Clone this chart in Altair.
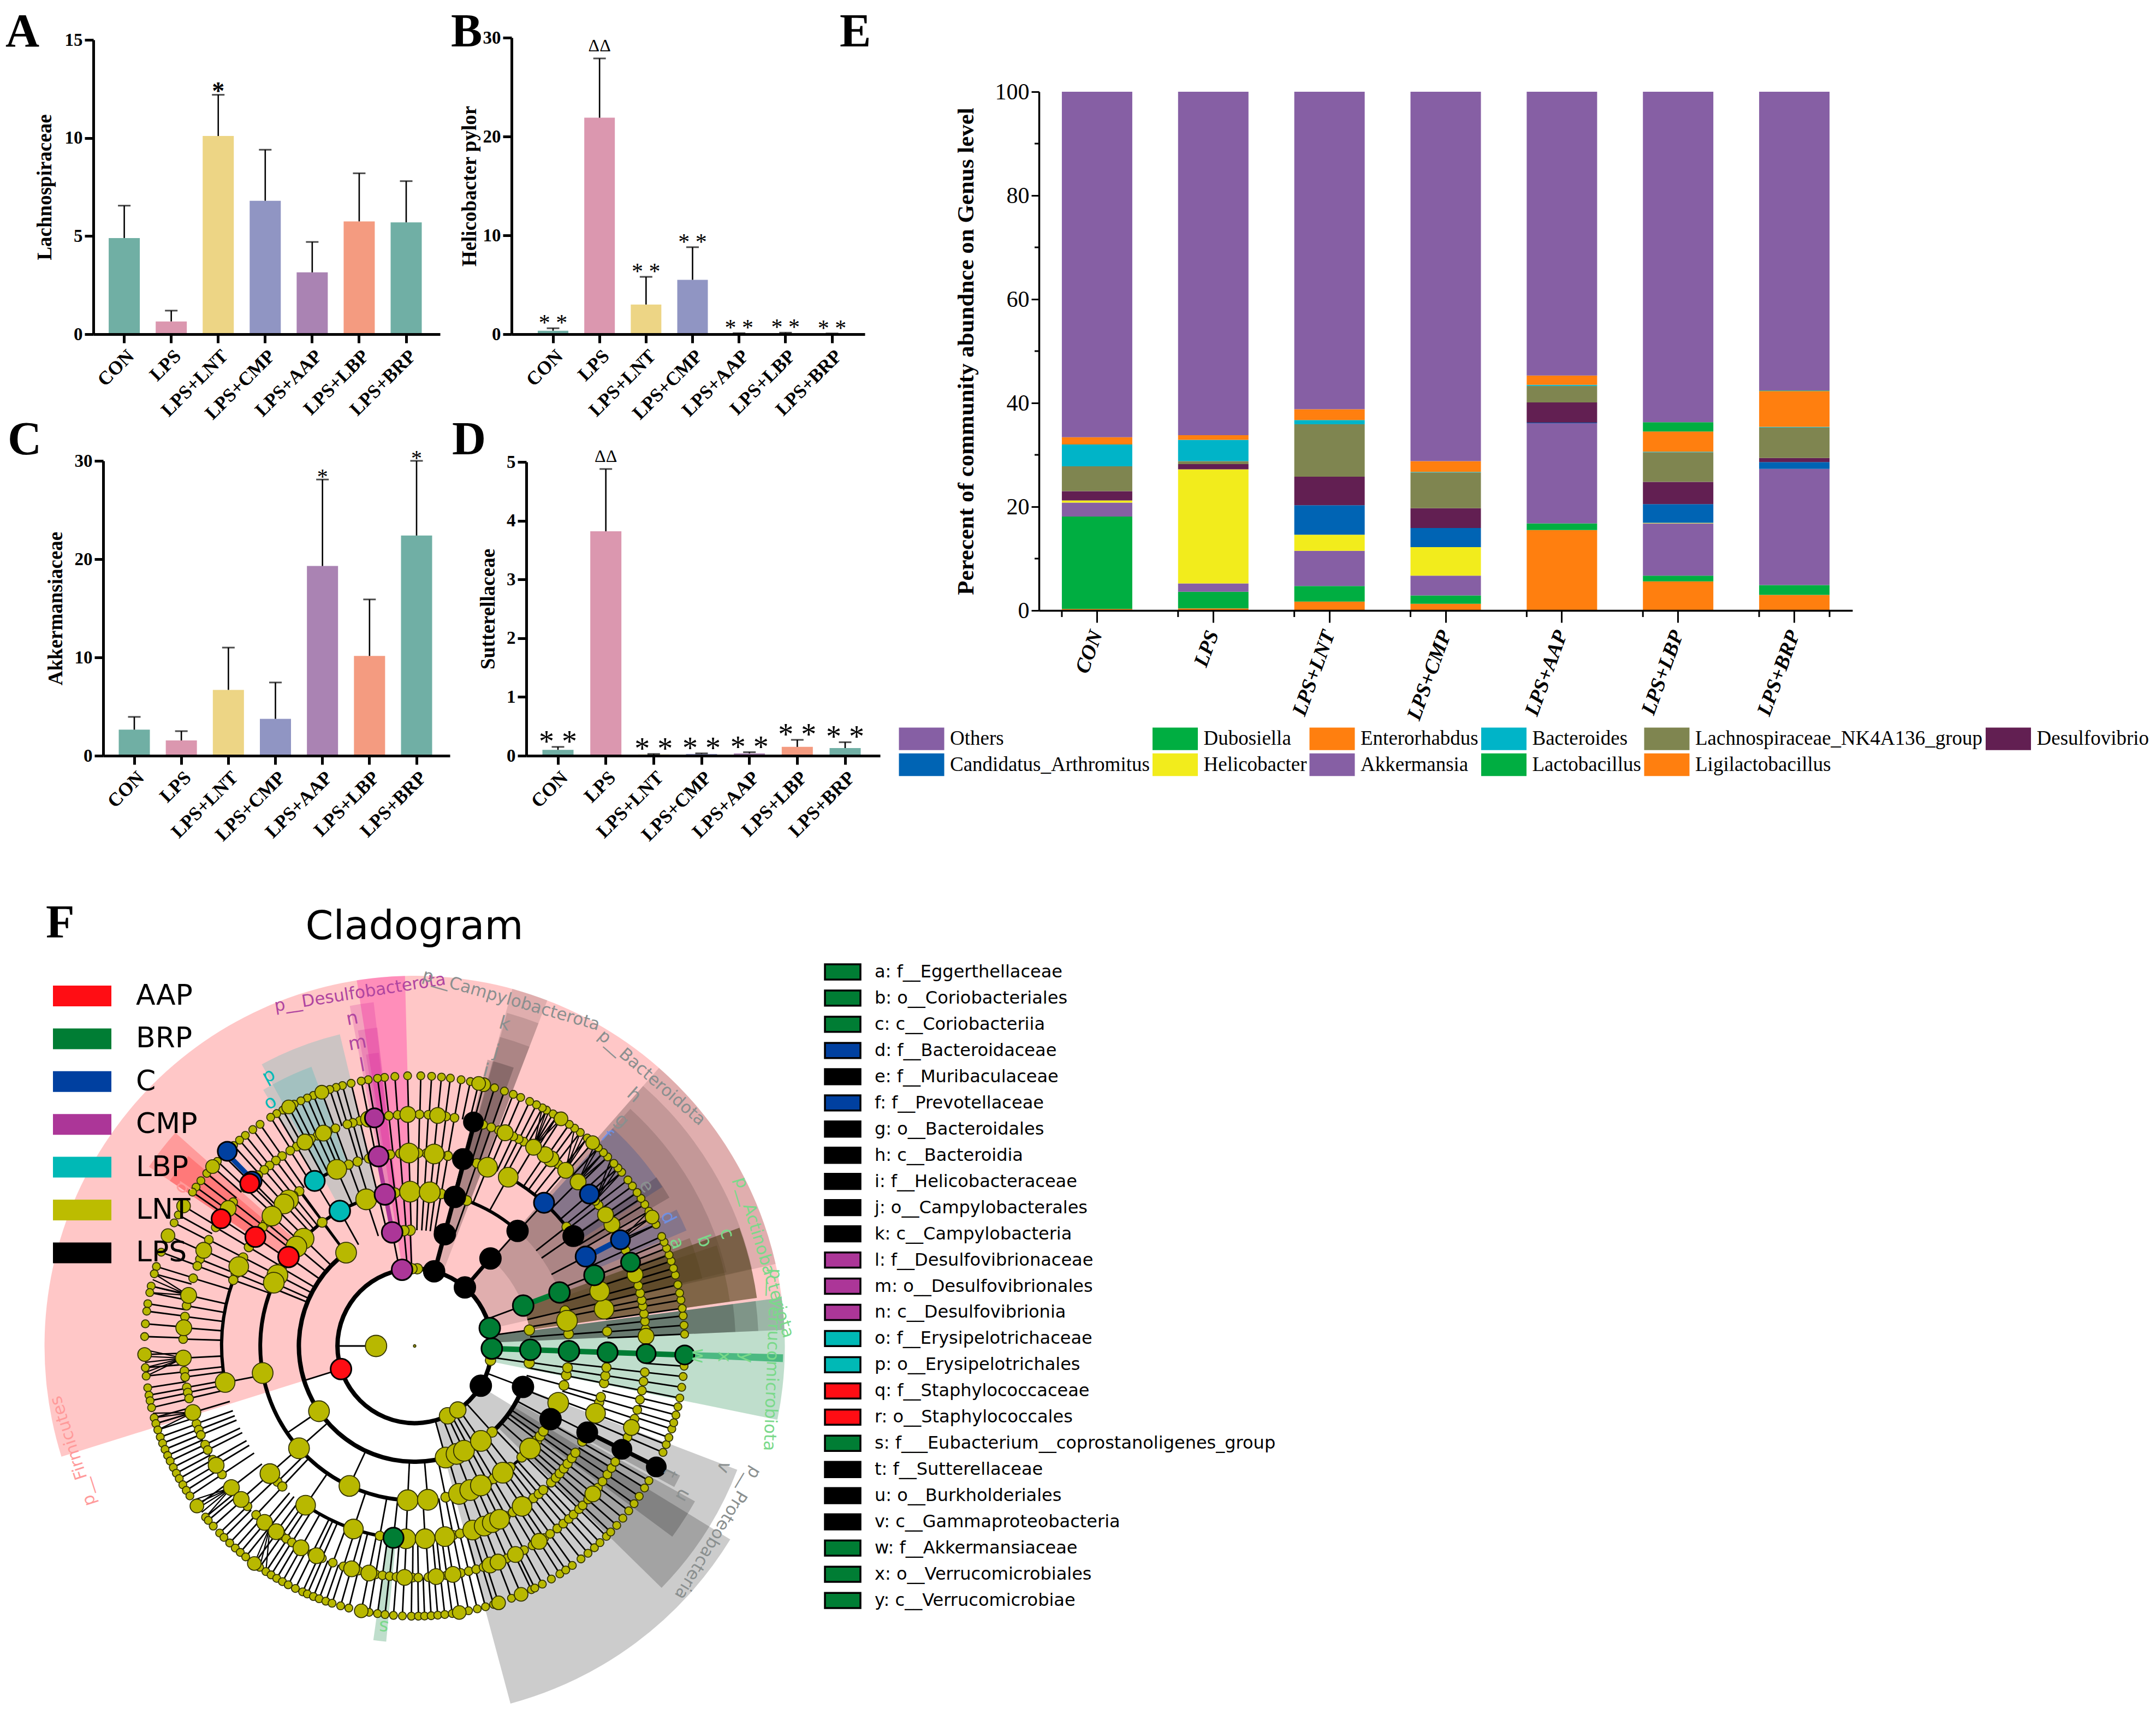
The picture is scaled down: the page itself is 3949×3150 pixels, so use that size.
import math
import altair as alt
import pandas as pd

W, H = 3933, 3134
SERIF = "Liberation Serif"
SANS = "DejaVu Sans"
groups = ["CON", "LPS", "LPS+LNT", "LPS+CMP", "LPS+AAP", "LPS+LBP", "LPS+BRP"]
panel_colors = ["#70AFA4", "#DB97AF", "#EDD585", "#9095C3", "#AA83B3", "#F49B80", "#70AFA5"]

# ---- panels A-D values
a_vals = [4.9, 0.65, 10.1, 6.8, 3.15, 5.75, 5.7]
a_tops = [6.55, 1.2, 12.2, 9.4, 4.7, 8.2, 7.8]
a_text = ["", "", "*", "", "", "", ""]
b_vals = [0.35, 21.9, 3.0, 5.5, 0.05, 0.1, 0.05]
b_tops = [0.6, 27.9, 5.8, 8.8, 0.1, 0.15, 0.07]
b_text = ["* *", "ΔΔ", "* *", "* *", "* *", "* *", "* *"]
c_vals = [2.65, 1.55, 6.7, 3.75, 19.3, 10.15, 22.4]
c_tops = [3.95, 2.5, 11.0, 7.45, 28.1, 15.9, 30.0]
c_text = ["", "", "", "", "*", "", "*"]
d_vals = [0.1, 3.82, 0.02, 0.03, 0.04, 0.15, 0.13]
d_tops = [0.15, 4.88, 0.03, 0.04, 0.06, 0.27, 0.23]
d_text = ["* *", "ΔΔ", "* *", "* *", "* *", "* *", "* *"]

# ---- panel E values
genera = ["Ligilactobacillus", "Lactobacillus", "Akkermansia", "Helicobacter", "Candidatus_Arthromitus",
          "Desulfovibrio", "Lachnospiraceae_NK4A136_group", "Bacteroides", "Enterorhabdus", "Dubosiella", "Others"]
ligi = [0.3, 0.4, 1.7, 1.3, 15.5, 5.6, 3.0]
lacto = [17.8, 3.2, 3.0, 1.6, 1.3, 1.1, 1.9]
akker = [2.7, 1.6, 6.8, 3.8, 19.3, 10.1, 22.4]
heli = [0.4, 22.0, 3.1, 5.5, 0.0, 0.1, 0.0]
cand = [0.0, 0.0, 5.7, 3.7, 0.1, 3.6, 1.3]
desulf = [1.8, 1.0, 5.5, 3.8, 3.9, 4.3, 0.8]
lachno = [4.8, 0.6, 10.1, 6.9, 3.2, 5.7, 5.9]
bacter = [4.2, 4.1, 0.8, 0.1, 0.2, 0.1, 0.1]
entero = [1.4, 0.9, 2.1, 2.1, 1.8, 3.9, 6.9]
dubo = [0.0, 0.0, 0.0, 0.0, 0.0, 1.8, 0.1]
others = [66.6, 66.2, 61.2, 71.2, 54.7, 63.7, 57.6]
genus_series = [ligi, lacto, akker, heli, cand, desulf, lachno, bacter, entero, dubo, others]
legend_order = ["Others", "Dubosiella", "Enterorhabdus", "Bacteroides", "Lachnospiraceae_NK4A136_group", "Desulfovibrio",
                "Candidatus_Arthromitus", "Helicobacter", "Akkermansia", "Lactobacillus", "Ligilactobacillus"]
legend_colors = ["#865FA4", "#00AE41", "#FF7F0F", "#00B4C8", "#7F8550", "#621F52",
                 "#0064B4", "#F2EC1C", "#865FA4", "#00AE41", "#FF7F0F"]

# ---- panel F: cladogram. Angles in degrees (counter-clockwise from east) per ring
r7_small = [91.5, 94.2, 96.4, 97.9, 99.9, 101.4, 103.6, 105.5, 106.9, 108.3, 112, 113.4, 114.9, 116.5, 119.2, 120.7,
            122.2, 124.9, 126.8, 128.8, 130.4, 132.1, 135.1, 136.9, 140.3, 142.3, 144, 145.3, 151, 152.9, 159.7, 162.9,
            164.5, 167.2, 168.6, 171, 172.6, 175.3, 178, 184.6, 186.4, 188.9, 190.5, 191.7, 193.2, 195.4, 196.7, 198.1,
            199.7, 201.1, 202.5, 203.9, 205.2, 206.7, 208.1, 209.4, 210.9, 212.3, 213.7, 219.3, 220.2, 221.8, 223.8,
            225.1, 226.8, 228.4, 229.8, 231.3, 235, 236.6, 237.9, 239.3, 240.7, 242.1, 243.8, 245.5, 246.6, 248, 249.3,
            250.8, 252.2, 254.1, 255.9, 260.3, 262.1, 263.7, 265.5, 267.4, 269.3, 270.8, 272.1, 273.5, 274.9, 276.4, 278,
            281.5, 283.4, 285.2, 287, 291, 295.6, 296.4, 298.2, 300.4, 302.5, 304, 305.7, 308, 309.9, 311.7, 313.3, 315.2,
            316.5, 318.4, 320.4, 322.4, 324.3, 326.2, 328.3, 330.1, 336.8, 338.6, 340.2, 342.1, 343.5, 345.2, 347, 348.9,
            351.2, 353.5, 355.7, 2.5, 4.4, 6.4, 8, 9.8, 11.3, 13.1, 15.2, 16.7, 18.3, 19.7, 21.2, 22.6, 23.9, 26.7, 29.9,
            31.6, 33.1, 34.6, 36.3, 37.9, 40, 41.2, 42.5, 44.4, 45.7, 47.2, 50.3, 52.2, 53.7, 55.1, 58.2, 59.2, 60.8, 61.8,
            63.2, 64.8, 66.9, 68.6, 70.6, 72.8, 78.1, 80.1, 82.4, 84.3, 86.4, 88.7]
r7_big = [110.1, 117.8, 138.4, 148.8, 155.9, 181.8, 216.3, 233.6, 258.6, 279.5, 288.1, 293.2, 28.5, 48.8, 57.2, 75.2, 76.3]
r6_small = [94.2, 96.4, 103.7, 105.5, 106.9, 110, 112, 114.8, 116.6, 120.6, 122.5, 124.9, 126.8, 128.8, 130.5, 132.5, 137,
            141.6, 149.2, 152.7, 158, 159.8, 163, 170, 172.7, 178.3, 186.2, 187.7, 190.3, 191.6, 193.1, 199.6, 201.2, 202.6,
            205.2, 206.7, 209.4, 213.7, 223.8, 226.8, 231.3, 234.9, 236.3, 238, 243.7, 246.4, 249.3, 252.1, 255.9, 260.3,
            262, 263.8, 265.5, 269.5, 270.9, 273.4, 276.5, 278, 281.5, 283.5, 285.4, 287.3, 293.5, 298.2, 300.6, 304, 305.8,
            308, 309.9, 311.7, 313.3, 315.2, 316.5, 318.5, 322.3, 324.2, 326.3, 328.2, 330, 336.8, 341.7, 344, 346.6, 348.9,
            351.2, 353.5, 4.2, 6.1, 8, 9.9, 11.4, 13.2, 15.1, 24.4, 30, 37.4, 38.8, 51.7, 61.9, 63.3, 64.8, 68.7, 70.7, 72.8,
            80.1, 82.2, 86.6, 88.8]
r6_big = [91.7, 101.5, 113.2, 118.3, 143.6, 155.6, 167.4, 175.5, 183, 196.7, 211, 217.7, 221.5, 229.6, 233.3, 240.6, 244.9,
          254.2, 258.6, 267.5, 275.3, 279.5, 289, 291.1, 295.8, 302.5, 320.3, 339.4, 2.4, 17.9, 31.6, 34.5, 45.1, 49.3,
          53.9, 55.7, 59.1, 67, 84.3]
r5_small = [94.3, 97.3, 103.7, 107.2, 110, 126.7, 128.9, 135.3, 140.3, 142, 149.2, 152.7, 158, 160, 224.7, 226.7, 259.6, 281.5,
            283.6, 298.2, 300.6, 305.8, 308, 310, 311.8, 315, 317, 318.7, 320.6, 322.4, 324.5, 326.4, 330.3, 343, 344.7,
            348.9, 351.1, 353.6, 4.3, 13, 38.1, 71.2, 80.1, 82.3, 86.4, 88.9]
r5_big = [91.7, 113.8, 130.8, 132.6, 137.7, 155.7, 190.9, 221.4, 235.6, 251.5, 267.4, 273.1, 279, 287.5, 291.1, 293.7, 296.1,
          303.8, 339.6, 11, 16.5, 61, 67.8, 84.2]
r4_small = [94.2, 97.3, 103.6, 126.8, 149.6, 157.8, 281.6, 298.3, 300.7, 308.2, 313.9, 322.4, 324.3, 326.5, 345.2, 349.1, 351.9,
            4.5, 13.2, 70.3, 80.1, 82.3, 86.5, 88.9]
r4_big = [91.7, 108.3, 136, 140, 152.7, 155.8, 190.1, 221.5, 245, 267.4, 274.9, 286.7, 291.1, 295.4, 304.8, 318.4, 338.4, 9.4, 84.4]
r3_small = [92.2, 95.3, 298, 301, 312, 351.6, 7.9]
r3_big = [126.3, 214.3, 285.5, 291.2, 295.2, 304.9]
r2_small = [88, 92, 349.3]
r2_big = [295.2, 304]
r1_big = [180]

# coloured biomarker nodes: (ring, angle, clade)
clade_nodes = [
    (2, 358.1, "BRP"), (3, 358.1, "BRP"), (4, 358.1, "BRP"), (5, 358.1, "BRP"), (6, 358.1, "BRP"), (7, 358.1, "BRP"),
    (2, 13.4, "BRP"), (3, 20.4, "BRP"), (4, 20.3, "BRP"), (5, 21.5, "BRP"), (6, 21.2, "BRP"), (5, 263.7, "BRP"),
    (2, 329, "LPS"), (3, 339.3, "LPS"), (4, 331.7, "LPS"), (5, 333.4, "LPS"), (6, 333.5, "LPS"), (7, 333.4, "LPS"),
    (2, 49.4, "LPS"), (3, 49.1, "LPS"), (4, 48.2, "LPS"), (5, 34.7, "LPS"),
    (2, 75.4, "LPS"), (3, 74.9, "LPS"), (4, 74.9, "LPS"), (5, 75.5, "LPS"), (6, 75.3, "LPS"),
    (5, 47.9, "C"), (6, 41, "C"), (5, 27.6, "C"), (6, 27.3, "C"), (7, 133.9, "C"), (6, 134.6, "C"),
    (2, 197.4, "AAP"), (4, 144.8, "AAP"), (5, 145.6, "AAP"), (6, 146.7, "AAP"), (6, 135.4, "AAP"),
    (2, 99.4, "CMP"), (3, 101.2, "CMP"), (4, 101.1, "CMP"), (5, 100.8, "CMP"), (6, 100, "CMP"),
    (4, 119, "LBP"), (5, 121.2, "LBP"),
]
fans = [(183, [180.8, 182.2, 183.5, 184.6, 185.6, 186.4]), (196.7, [194.4, 195.4, 196.7, 198.1]), (217.7, [214.8, 215.8, 216.8, 218, 219.3]),
        (59.1, [57.2, 58.2, 59.2, 60.2, 60.8, 61.8]), (49.3, [50.3, 51.2, 52.2, 53.7]), (45.1, [44.4, 45.7, 47.2, 48.2]),
        (38.8, [40, 41.2, 42.5, 43.5]), (27.3, [26.7, 28.5, 29.9]), (167.4, [164.5, 165.8, 167.2, 168.6]), (231.3, [233.6, 235, 236.6])]
# thick branches along a ring: (ring, from angle, to angle, width)
ring_arcs = [(2, 0, 360, 8), (3, 126, 290, 8), (3, 312, 339, 8), (4, 157, 275, 7), (4, 108, 136, 6), (4, 50, 70, 6),
             (4, 305, 319, 5), (5, 160, 191, 6), (5, 236, 264, 6), (5, 48, 61, 6), (5, 35, 48, 6), (5, 270, 279, 6), (5, 113.8, 121, 6)]
# thick radial branches: (ring from, ring to, angle, width, clade)
thick_spokes = [(2, 7, 358.1, 10, "BRP"), (3, 4, 20.4, 10, "BRP"), (3, 5, 101, 8, "CMP"), (2, 6, 75, 8, "LPS"), (2, 3, 49.2, 7, "LPS"),
                (5, 7, 333.5, 8, "LPS"), (5, 6, 27.4, 10, "C"), (6, 7, 134.3, 9, "C"), (1, 2, 180, 2.8, "LPS"), (3, 4, 214.3, 2.8, "LPS"),
                (3, 5, 126.3, 2.8, "LPS"), (2, 3, 197.4, 2.8, "LPS")]
no_inner_spoke = [(3, 126.3), (3, 214.3), (4, 190.1)]

wedges = [  # from angle, to angle, inner ring, outer radius, colour, alpha
    (7.5, 197.4, 2, 678, "#ff0000", 0.22), (91.5, 99, 2, 678, "#ff0a9b", 0.3), (96.8, 100.8, 3, 634, "#cc2299", 0.22),
    (96.7, 100.2, 4, 587, "#cc2299", 0.22), (97, 99.5, 5, 541, "#cc2299", 0.22),
    (103.5, 118.5, 4, 587, "#00b9b6", 0.2), (110.3, 120.6, 5, 545, "#00b9b6", 0.2),
    (138.3, 146, 4, 587, "#ff0000", 0.22), (140, 146, 5, 541, "#ff0000", 0.22),
    (69, 74.7, 2, 678, "#000000", 0.12), (69, 74.5, 3, 633, "#000000", 0.12), (69, 74.6, 4, 587, "#000000", 0.12), (70.4, 75.7, 5, 541, "#000000", 0.2),
    (12.8, 48.7, 2, 678, "#000000", 0.12), (12.9, 48.7, 3, 634, "#000000", 0.12), (13.3, 47.7, 4, 587, "#000000", 0.12),
    (32.7, 47.7, 5, 539, "#0040a0", 0.22), (30.2, 34.9, 5, 540, "#000000", 0.18), (23, 27.5, 5, 541, "#0040a0", 0.22),
    (8, 20, 3, 633, "#4a3a10", 0.6), (8, 18.4, 4, 583, "#4a3a10", 0.25), (13.2, 21.4, 5, 541, "#4a3a10", 0.25),
    (-11.5, 7.5, 2, 678, "#007d34", 0.25), (2.5, 7.5, 2, 678, "#000000", 0.18), (2.5, 7.5, 2, 630, "#000000", 0.18), (2.5, 7.5, 2, 588, "#000000", 0.18),
    (-2.5, -1.3, 7, 675, "#00a050", 0.6), (262, 264.5, 5, 544, "#007d34", 0.25),
    (285, 328.5, 2, 678, "#000000", 0.2), (315.6, 339, 3, 633, "#000000", 0.2), (323.5, 331, 3, 587, "#000000", 0.2), (331.5, 334, 5, 541, "#000000", 0.2),
]
clade_labels = [  # text, radius, angle, colour
    ("p__Firmicutes", 654, 197.1, "#ff9a9a"), ("p__Desulfobacterota", 654, 98.8, "#b045a0"), ("p__Campylobacterota", 657, 74.4, "#8a8f8f"),
    ("p__Bacteroidota", 655, 48.5, "#8a8f8f"), ("p__Actinobacteriota", 660, 14.2, "#7ad98a"), ("p__Verrucomicrobiota", 655, -2.2, "#7ad98a"),
    ("p__Proteobacteria", 652, 328.3, "#8a8f8f"),
    ("k", 612, 74.4, "#8a8f8f"), ("j", 559, 74.5, "#8a8f8f"), ("i", 520, 75.5, "#8a8f8f"), ("h", 610, 48.8, "#8a8f8f"), ("g", 560, 47.4, "#8a8f8f"),
    ("f", 520, 47.6, "#6f8fe0"), ("e", 515, 34.6, "#8a8f8f"), ("d", 520, 26.9, "#6f8fe0"), ("c", 607, 19.8, "#7ad98a"), ("b", 564, 19.9, "#7ad98a"),
    ("a", 515, 21.4, "#7ad98a"), ("n", 610, 100.8, "#b045a0"), ("m", 564, 100.7, "#b045a0"), ("l", 522, 100.6, "#b045a0"),
    ("p", 562, 118.4, "#00b9b6"), ("o", 518, 120.7, "#00b9b6"), ("q", 516, 145.7, "#ff9a9a"), ("r", 563, 143, "#ff9a9a"),
    ("s", 517, 263.7, "#7ad98a"), ("t", 522, 333.6, "#8a8f8f"), ("u", 562, 330.9, "#8a8f8f"), ("v", 608, 338.6, "#8a8f8f"),
    ("w", 519, 358, "#7ad98a"), ("x", 567, 358, "#7ad98a"), ("y", 608, 358, "#7ad98a"),
]
label_rot = {"p__Firmicutes": 252, "p__Desulfobacterota": 351, "p__Campylobacterota": 16, "p__Bacteroidota": 41, "p__Actinobacteriota": 73,
             "p__Verrucomicrobiota": 92, "p__Proteobacteria": 121}

clades = ["AAP", "BRP", "C", "CMP", "LBP", "LNT", "LPS"]
clade_cols = ["#ff0d14", "#007d34", "#0040a0", "#ac3698", "#00b9b6", "#bcbc00", "#000000"]
biomarkers = ["a: f__Eggerthellaceae", "b: o__Coriobacteriales", "c: c__Coriobacteriia", "d: f__Bacteroidaceae", "e: f__Muribaculaceae",
              "f: f__Prevotellaceae", "g: o__Bacteroidales", "h: c__Bacteroidia", "i: f__Helicobacteraceae", "j: o__Campylobacterales",
              "k: c__Campylobacteria", "l: f__Desulfovibrionaceae", "m: o__Desulfovibrionales", "n: c__Desulfovibrionia",
              "o: f__Erysipelotrichaceae", "p: o__Erysipelotrichales", "q: f__Staphylococcaceae", "r: o__Staphylococcales",
              "s: f___Eubacterium__coprostanoligenes_group", "t: f__Sutterellaceae", "u: o__Burkholderiales", "v: c__Gammaproteobacteria",
              "w: f__Akkermansiaceae", "x: o__Verrucomicrobiales", "y: c__Verrucomicrobiae"]
biomarker_clade = ["BRP", "BRP", "BRP", "C", "LPS", "C", "LPS", "LPS", "LPS", "LPS", "LPS", "CMP", "CMP", "CMP", "LBP", "LBP", "AAP", "AAP",
                   "BRP", "LPS", "LPS", "LPS", "BRP", "BRP", "BRP"]

# ------------------------------------------------------------------ helpers
layers = []
O = 8  # page margin


def band(x0, x1, c0, c1, bw):
    step = (c1 - c0) / 6
    pi = 1 - bw / step
    po = ((x1 - x0) / step - 7 + pi) / 2
    al = (c0 - bw / 2 - x0) / (2 * po * step)
    return alt.Scale(type="band", domain=groups, range=[x0 - O, x1 - O], paddingInner=pi, paddingOuter=po, align=al)


def bar_panel(vals, tops, texts, ymax, yticks, title, x0, x1, c0, c1, bw, ytop, ybase, title_x, star, star_dy, star_w):
    df = pd.DataFrame({"g": groups, "v": vals, "t": tops, "s": texts})
    xs = band(x0, x1, c0, c1, bw)
    ys = alt.Scale(domain=[0, ymax], range=[ybase - O, ytop - O])
    xaxis = alt.Axis(orient="bottom", offset=ybase - O - H, title=None, labelAngle=-45, labelFont=SERIF, labelFontSize=35,
                     labelFontWeight="bold", labelColor="black", domainWidth=5, domainColor="black", tickColor="black", tickWidth=5,
                     tickSize=16, labelPadding=6, grid=False, labelOverlap=False, zindex=1)
    yaxis = alt.Axis(orient="left", offset=-(x0 - O), title=title, values=yticks, format="d", labelFont=SERIF, labelFontSize=33,
                     labelFontWeight="bold", labelColor="black", domainWidth=5, domainColor="black", tickColor="black", tickWidth=5,
                     tickSize=16, labelPadding=4, grid=False, titleFont=SERIF, titleFontSize=37, titleFontWeight="bold", titleColor="black",
                     titleX=title_x - x0, titleBaseline="middle", zindex=1)
    layers.append(alt.Chart(df).mark_bar(strokeWidth=0).encode(
        x=alt.X("g:N", scale=xs, axis=xaxis, sort=groups), y=alt.Y("v:Q", scale=ys, axis=yaxis),
        color=alt.Color("g:N", scale=alt.Scale(domain=groups, range=panel_colors), legend=None)))
    layers.append(alt.Chart(df).mark_rule(color="black", strokeWidth=2.6).encode(
        x=alt.X("g:N", scale=xs, axis=None), y=alt.Y("v:Q", scale=ys, axis=None), y2="t:Q"))
    layers.append(alt.Chart(df).mark_tick(orient="horizontal", color="black", size=23, thickness=3).encode(
        x=alt.X("g:N", scale=xs, axis=None), y=alt.Y("t:Q", scale=ys, axis=None)))
    stars = df[df.s.str.contains(r"\*")]
    layers.append(alt.Chart(stars).mark_text(font=SERIF, fontSize=star, dy=star_dy, color="black", fontWeight=star_w, align="center", baseline="alphabetic").encode(
        x=alt.X("g:N", scale=xs, axis=None), y=alt.Y("t:Q", scale=ys, axis=None), text="s:N"))
    deltas = df[df.s == "ΔΔ"]
    if len(deltas):
        layers.append(alt.Chart(deltas).mark_text(font=SERIF, fontSize=32, dy=-13, color="black", align="center", baseline="alphabetic").encode(
            x=alt.X("g:N", scale=xs, axis=None), y=alt.Y("t:Q", scale=ys, axis=None), text="s:N"))


def free_text(txt, x, y, font=SERIF, size=30, weight="normal", color="black", align="left"):
    layers.append(alt.Chart(alt.Data(values=[{"t": txt}])).mark_text(font=font, fontSize=size, fontWeight=weight, color=color, align=align,
                                                                    baseline="alphabetic").encode(
        x=alt.value(x - O), y=alt.value(y - O), text="t:N"))


bar_panel(a_vals, a_tops, a_text, 15, [0, 5, 10, 15], "Lachnospiraceae", 171, 806, 227.6, 744, 57, 73, 612, 82, 46, 8, "bold")
bar_panel(b_vals, b_tops, b_text, 30, [0, 10, 20, 30], "Helicobacter pylor", 937, 1584, 1013, 1524, 56, 69, 612, 860, 42, 4, "normal")
bar_panel(c_vals, c_tops, c_text, 30, [0, 10, 20, 30], "Akkermansiaceae", 189, 824, 246, 763, 57, 844, 1384, 102, 40, 8, "normal")
bar_panel(d_vals, d_tops, d_text, 5, [0, 1, 2, 3, 4, 5], "Sutterellaceae", 964, 1612, 1022, 1548, 57, 846, 1384, 894, 56, 9, "normal")

for letter, lx, ly in [("A", 10, 85), ("B", 826, 85), ("C", 14, 832), ("D", 828, 832), ("E", 1538, 85), ("F", 84, 1717)]:
    free_text(letter, lx, ly, size=86, weight="bold")

# ---- panel E
E_X0, E_X1, E_Y0, E_Y1 = 1903, 3393, 168, 1118
ex = alt.Scale(type="band", domain=groups, range=[E_X0 - O, E_X1 - O], paddingInner=0.394, paddingOuter=0.197)
ey = alt.Scale(domain=[0, 100], range=[E_Y1 - O, E_Y0 - O])
rows = []
for k, (name, series) in enumerate(zip(genera, genus_series)):
    for g, v in zip(groups, series):
        rows.append({"g": g, "genus": name, "v": v, "ord": k})
edf = pd.DataFrame(rows)
e_legend = alt.Legend(title=None, orient="none", legendX=1667 - O, legendY=1332 - O, columns=6, direction="horizontal",
                      symbolType="M-2,-1H2V1H-2Z", symbolSize=1722, symbolStrokeWidth=0, labelFont=SERIF, labelFontSize=37,
                      labelColor="black", labelLimit=1200, labelOffset=31, columnPadding=4.5, rowPadding=5.5, values=legend_order)
layers.append(alt.Chart(edf).mark_bar(strokeWidth=0).encode(
    x=alt.X("g:N", scale=ex, sort=groups, axis=alt.Axis(orient="bottom", offset=E_Y1 - O - H, title=None, labelAngle=-70, labelFont=SERIF,
                                                        labelFontSize=38, labelFontStyle="italic", labelFontWeight="bold", labelColor="black",
                                                        domainWidth=3.5, domainColor="black", tickColor="black", tickWidth=3, tickSize=22,
                                                        labelPadding=16, grid=False, labelOverlap=False, zindex=1)),
    y=alt.Y("v:Q", scale=ey, stack="zero", axis=alt.Axis(orient="left", offset=-(E_X0 - O), values=[0, 20, 40, 60, 80, 100],
                                                         title="Perecent of community abundnce on Genus level", labelFont=SERIF, labelFontSize=42,
                                                         labelColor="black", domainWidth=3.5, domainColor="black", tickColor="black", tickWidth=3,
                                                         tickSize=14, labelPadding=4, grid=False, titleFont=SERIF, titleFontSize=43,
                                                         titleFontWeight="bold", titleColor="black", titleX=1769 - E_X0, titleBaseline="middle", zindex=1)),
    color=alt.Color("genus:N", scale=alt.Scale(domain=legend_order, range=legend_colors), legend=e_legend),
    order=alt.Order("ord:Q"),
))
minor_y = [10, 30, 50, 70, 90]
layers.append(alt.Chart(pd.DataFrame({"v": minor_y})).mark_rule(color="black", strokeWidth=3).encode(
    y=alt.Y("v:Q", scale=ey, axis=None), x=alt.value(E_X0 - O - 8), x2=alt.value(E_X0 - O)))
gdf = pd.DataFrame({"g": groups})
layers.append(alt.Chart(gdf).mark_rule(color="black", strokeWidth=3).encode(
    x=alt.X("g:N", scale=ex, bandPosition=0, axis=None), y=alt.value(E_Y1 - O), y2=alt.value(E_Y1 - O + 12)))
layers.append(alt.Chart(gdf.iloc[[-1]]).mark_rule(color="black", strokeWidth=3).encode(
    x=alt.X("g:N", scale=ex, bandPosition=1, axis=None), y=alt.value(E_Y1 - O), y2=alt.value(E_Y1 - O + 12)))

# ---- panel F
CX, CY, U = 759.5 - O, 2465 - O, 70.7
fx = alt.Scale(domain=[-9, 9], range=[CX - 9 * U, CX + 9 * U])
fy = alt.Scale(domain=[-9, 9], range=[CY + 9 * U, CY - 9 * U])
col = dict(zip(clades, clade_cols))
rad = math.radians


def polar(r, a):
    return r * math.cos(rad(a)), r * math.sin(rad(a))


def th(a):
    return rad(90 - a)


wdf = pd.DataFrame([{"t0": th(a1), "t1": th(a0), "r0": r * U, "r1": ro, "c": c, "o": o} for a0, a1, r, ro, c, o in wedges])
layers.append(alt.Chart(wdf).mark_arc(strokeWidth=0).encode(
    x=alt.value(CX), y=alt.value(CY), theta=alt.Theta("t0:Q", scale=None, stack=None), theta2="t1:Q",
    radius=alt.Radius("r1:Q", scale=None), radius2="r0:Q", color=alt.Color("c:N", scale=None), opacity=alt.Opacity("o:Q", scale=None)))

segs = []


def seg(r0, a0, r1, a1, w, c):
    x0, y0 = polar(r0, a0)
    x1, y1 = polar(r1, a1)
    segs.append({"x": x0, "y": y0, "x2": x1, "y2": y1, "w": w, "c": c})


ring_sets = {7: r7_small + r7_big, 6: r6_small + r6_big, 5: r5_small + r5_big, 4: r4_small + r4_big, 3: r3_small + r3_big}
for rk, angles in ring_sets.items():
    for a in angles:
        if (rk, a) not in no_inner_spoke:
            seg(rk, a, rk - 1, a, 2.8, "#000000")
for parent, kids in fans:
    for a in kids:
        seg(6, parent, 7, a, 2.2, "#000000")
for rk, a, cl in clade_nodes:
    if rk >= 3 and rk != 7:
        seg(rk, a, rk - 1, a, 2.8, "#000000")
for r0, r1, a, w, cl in thick_spokes:
    seg(r0, a, r1, a, w, col[cl])
sdf = pd.DataFrame(segs)
layers.append(alt.Chart(sdf).mark_rule().encode(
    x=alt.X("x:Q", scale=fx, axis=None), y=alt.Y("y:Q", scale=fy, axis=None), x2="x2:Q", y2="y2:Q",
    strokeWidth=alt.StrokeWidth("w:Q", scale=None), color=alt.Color("c:N", scale=None)))

adf = pd.DataFrame([{"t0": th(a1), "t1": th(a0), "r0": r * U - w / 2, "r1": r * U + w / 2} for r, a0, a1, w in ring_arcs])
layers.append(alt.Chart(adf).mark_arc(color="black", strokeWidth=0).encode(
    x=alt.value(CX), y=alt.value(CY), theta=alt.Theta("t0:Q", scale=None, stack=None), theta2="t1:Q",
    radius=alt.Radius("r1:Q", scale=None), radius2="r0:Q"))

small_d = {7: 14.5, 6: 16, 5: 17, 4: 18, 3: 19, 2: 19}
big_d = {7: 25, 6: 29, 5: 36, 4: 38, 3: 38, 2: 30, 1: 39}
yrows = []
for rk, lst in [(7, r7_small), (6, r6_small), (5, r5_small), (4, r4_small), (3, r3_small), (2, r2_small)]:
    for a in lst:
        x, y = polar(rk, a)
        yrows.append({"x": x, "y": y, "s": small_d[rk] ** 2})
for rk, lst in [(7, r7_big), (6, r6_big), (5, r5_big), (4, r4_big), (3, r3_big), (2, r2_big), (1, r1_big)]:
    for a in lst:
        x, y = polar(rk, a)
        yrows.append({"x": x, "y": y, "s": big_d[rk] ** 2})
yrows.append({"x": 0, "y": 0, "s": 20})
layers.append(alt.Chart(pd.DataFrame(yrows)).mark_circle(color="#b8b800", opacity=1, stroke="#333300", strokeWidth=1.8).encode(
    x=alt.X("x:Q", scale=fx, axis=None), y=alt.Y("y:Q", scale=fy, axis=None), size=alt.Size("s:Q", scale=None)))
crows = []
for rk, a, cl in clade_nodes:
    x, y = polar(rk, a)
    d = {2: 38, 3: 38, 4: 38, 5: 37, 6: 35, 7: 35}[rk]
    crows.append({"x": x, "y": y, "s": d * d, "c": col[cl]})
layers.append(alt.Chart(pd.DataFrame(crows)).mark_circle(opacity=1, stroke="black", strokeWidth=3).encode(
    x=alt.X("x:Q", scale=fx, axis=None), y=alt.Y("y:Q", scale=fy, axis=None), size=alt.Size("s:Q", scale=None), color=alt.Color("c:N", scale=None)))

lrows = []
for txt, r, a, c in clade_labels:
    x, y = polar(r / U, a)
    rot = label_rot.get(txt, (90 - a) % 360)
    lrows.append({"x": x, "y": y, "t": txt, "c": c, "rot": rot, "sz": 31 if len(txt) > 1 else 34})
layers.append(alt.Chart(pd.DataFrame(lrows)).mark_text(font=SANS, align="center", baseline="middle").encode(
    x=alt.X("x:Q", scale=fx, axis=None), y=alt.Y("y:Q", scale=fy, axis=None), text="t:N", angle=alt.Angle("rot:Q", scale=None),
    color=alt.Color("c:N", scale=None), size=alt.Size("sz:Q", scale=None)))

free_text("Cladogram", 759, 1720, font=SANS, size=73, align="center")

# clade legend
step = 78.4
ly = alt.Scale(type="band", domain=clades, range=[1824 - step / 2 - O, 1824 + 6.5 * step - O], paddingInner=0.515, paddingOuter=0.2575)
cldf = pd.DataFrame({"k": clades, "c": clade_cols})
layers.append(alt.Chart(cldf).mark_rect(strokeWidth=0).encode(
    y=alt.Y("k:N", scale=ly, axis=None), x=alt.value(97 - O), x2=alt.value(204 - O), color=alt.Color("c:N", scale=None)))
layers.append(alt.Chart(cldf).mark_text(font=SANS, fontSize=52, align="left", baseline="middle", color="black").encode(
    y=alt.Y("k:N", scale=ly, axis=None), x=alt.value(249 - O), text="k:N"))

# biomarker legend
bstep = 47.96
by = alt.Scale(type="band", domain=biomarkers, range=[1780 - bstep / 2 - O, 1780 + 24.5 * bstep - O], paddingInner=0.42, paddingOuter=0.21)
bdf = pd.DataFrame({"k": biomarkers, "c": [col[c] for c in biomarker_clade]})
layers.append(alt.Chart(bdf).mark_rect(stroke="black", strokeWidth=3.5).encode(
    y=alt.Y("k:N", scale=by, axis=None), x=alt.value(1511 - O), x2=alt.value(1576 - O), color=alt.Color("c:N", scale=None)))
layers.append(alt.Chart(bdf).mark_text(font=SANS, fontSize=32, align="left", baseline="middle", color="black").encode(
    y=alt.Y("k:N", scale=by, axis=None), x=alt.value(1602 - O), text="k:N"))

chart = alt.layer(*layers).resolve_scale(x="independent", y="independent", color="independent").resolve_axis(
    x="independent", y="independent").properties(width=W, height=H, padding=0, autosize="none", background="white").configure_view(strokeWidth=0)
chart.save("out.html", embed_options={"renderer": "svg", "actions": False})
